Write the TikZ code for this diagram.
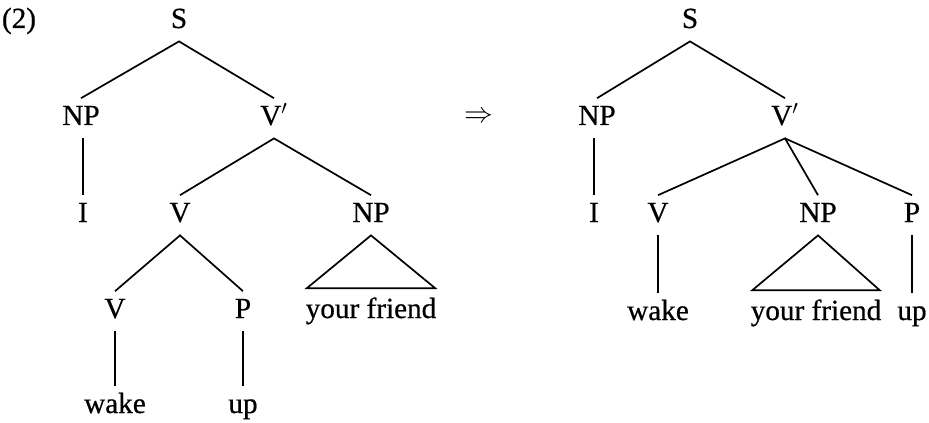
\documentclass[tikz,border=0pt]{standalone}
\usepackage{fontspec}
\setmainfont{Liberation Serif}[FakeBold=0.6]
\begin{document}
\begin{tikzpicture}[x=0.5pt,y=-0.5pt,
  lab/.style={anchor=base,inner sep=3.5pt,text height=9.7pt,text depth=3pt,
    font=\fontsize{14.6}{17}\selectfont},
  edge/.style={line width=0.85pt}]
\useasboundingbox (0,0) rectangle (929,422);
% left tree
\node[lab] (num) at (19,28) {(2)};
\node[lab] (S1) at (179,28) {S};
\node[lab] (NPa) at (81,125) {NP};
\node[lab] (VBa) at (274,125) {V$'$};
\node[lab] (Ia) at (83,222) {I};
\node[lab] (Va) at (180,222) {V};
\node[lab] (NPb) at (371,222) {NP};
\node[lab] (Vc) at (115,318) {V};
\node[lab] (Pa) at (243,318) {P};
\node[lab] (YFa) at (371,318) {your friend};
\node[lab] (WKa) at (115,413) {wake};
\node[lab] (UPa) at (243,413) {up};
\draw[edge] (NPa.north) -- (S1.south) -- (VBa.north);
\draw[edge] (NPa.south -| Ia.north) -- (Ia.north);
\draw[edge] (Va.north) -- (VBa.south) -- (NPb.north);
\draw[edge] (Vc.north) -- (Va.south) -- (Pa.north);
\draw[edge] (Vc.south) -- (WKa.north);
\draw[edge] (Pa.south) -- (UPa.north);
\draw[edge,line join=miter] (NPb.south) -- ([xshift=4.25pt,yshift=1.5pt]YFa.north west)
  -- ([xshift=-4.25pt,yshift=1.5pt]YFa.north east) -- cycle;
% arrow
\node[inner sep=0pt,font=\fontsize{14.6}{17}\selectfont] (arr) at (479,117) {$\Rightarrow$};
% right tree
\node[lab] (S2) at (690,28) {S};
\node[lab] (NPc) at (597,125) {NP};
\node[lab] (VBb) at (785,125) {V$'$};
\node[lab] (Ib) at (594,222) {I};
\node[lab] (Vd) at (658,222) {V};
\node[lab] (NPd) at (818,222) {NP};
\node[lab] (Pb) at (912,222) {P};
\node[lab] (WKb) at (658,320) {wake};
\node[lab] (YFb) at (816,320) {your friend};
\node[lab] (UPb) at (912,320) {up};
\draw[edge] (NPc.north) -- (S2.south) -- (VBb.north);
\draw[edge] (NPc.south -| Ib.north) -- (Ib.north);
\draw[edge] (Vd.north) -- (VBb.south) -- (NPd.north);
\draw[edge] (VBb.south) -- (Pb.north);
\draw[edge] (Vd.south) -- (WKb.north);
\draw[edge] (Pb.south) -- (UPb.north);
\draw[edge,line join=miter] (NPd.south) -- ([xshift=4.5pt,yshift=1.5pt]YFb.north west)
  -- ([xshift=-4.5pt,yshift=1.5pt]YFb.north east) -- cycle;
\end{tikzpicture}
\end{document}
